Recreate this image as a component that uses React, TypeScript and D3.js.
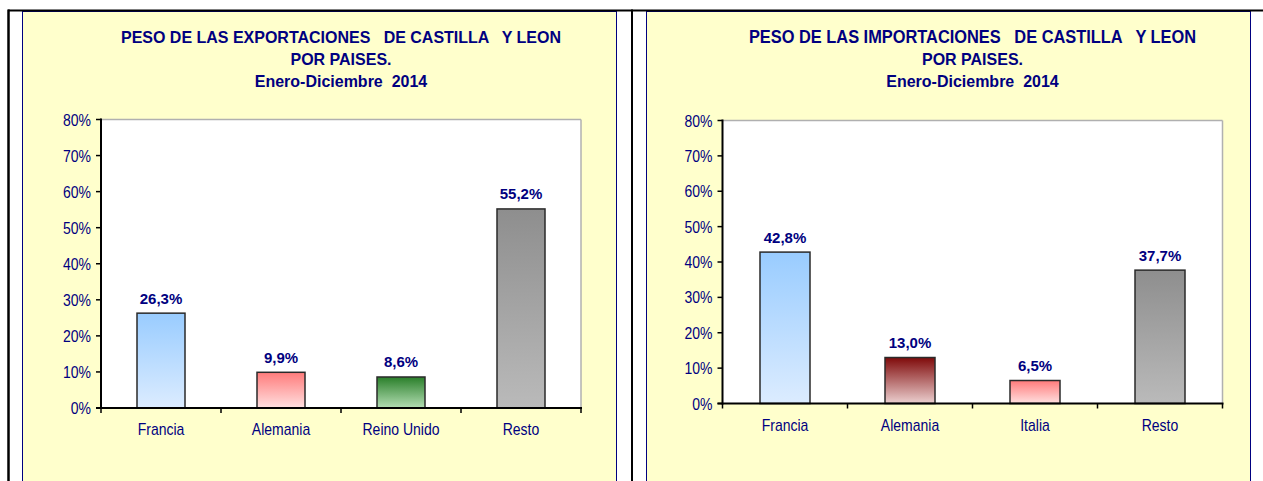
import React from "react";
import * as d3 from "d3";

const expCategories = ["Francia", "Alemania", "Reino Unido", "Resto"];
const expValues = [26.3, 9.9, 8.6, 55.2];
const impCategories = ["Francia", "Alemania", "Italia", "Resto"];
const impValues = [42.8, 13.0, 6.5, 37.7];
const yTickValues = [0, 10, 20, 30, 40, 50, 60, 70, 80];
const expTitle = ["PESO DE LAS EXPORTACIONES   DE CASTILLA   Y LEON", "POR PAISES.", "Enero-Diciembre  2014"];
const impTitle = ["PESO DE LAS IMPORTACIONES   DE CASTILLA   Y LEON", "POR PAISES.", "Enero-Diciembre  2014"];

const expGradients: [string, string][] = [
  ["#99ccff", "#dcecff"],
  ["#ff7b7b", "#ffe0e0"],
  ["#2a7f2a", "#b4deb4"],
  ["#8e8e8e", "#bababa"],
];
const impGradients: [string, string][] = [
  ["#99ccff", "#dcecff"],
  ["#7f0a0a", "#ecd0d0"],
  ["#ff7b7b", "#ffe0e0"],
  ["#8e8e8e", "#bababa"],
];

const NAVY = "#000080";
const FONT = "'Liberation Sans', Arial, sans-serif";
const fmt = (v: number) => v.toFixed(1).replace(".", ",") + "%";

type PanelProps = {
  id: string;
  panelX0: number;
  panelX1: number;
  plot: { x0: number; x1: number; y0: number; y1: number };
  title: string[];
  titleSize: number;
  categories: string[];
  values: number[];
  gradients: [string, string][];
};

function Panel({ id, panelX0, panelX1, plot, title, titleSize, categories, values, gradients }: PanelProps) {
  const x = d3.scaleBand<string>().domain(categories).range([plot.x0, plot.x1]).paddingInner(0.6).paddingOuter(0.3);
  const xb = d3.scaleBand<string>().domain(categories).range([plot.x0, plot.x1]);
  const y = d3.scaleLinear().domain([0, 80]).range([plot.y1, plot.y0]);
  const cx = (plot.x0 + plot.x1) / 2;
  const sy = 1.2;
  return (
    <g>
      <defs>
        {gradients.map((g, i) => (
          <linearGradient key={i} id={`${id}-g${i}`} x1="0" y1="0" x2="0" y2="1">
            <stop offset="0%" stopColor={g[0]} />
            <stop offset="100%" stopColor={g[1]} />
          </linearGradient>
        ))}
      </defs>
      <rect x={panelX0} y={11.5} width={panelX1 - panelX0} height={480} fill="#ffffcc" stroke={NAVY} strokeWidth={1} />
      {title.map((t, i) => (
        <text
          key={i}
          transform={`translate(${cx},${43 + i * 22}) scale(1,1.08)`}
          textAnchor="middle"
          fontFamily={FONT}
          fontWeight="bold"
          fontSize={i === 0 ? titleSize : 16}
          fill={NAVY}
          style={{ whiteSpace: "pre" }}
        >
          {t}
        </text>
      ))}
      <rect x={plot.x0} y={plot.y0} width={plot.x1 - plot.x0} height={plot.y1 - plot.y0} fill="#ffffff" />
      <line x1={plot.x0} x2={plot.x1} y1={plot.y0} y2={plot.y0} stroke="#b0b0b0" strokeWidth={1.5} />
      <line x1={plot.x1} x2={plot.x1} y1={plot.y0} y2={plot.y1} stroke="#b0b0b0" strokeWidth={1.5} />
      {categories.map((c, i) => (
        <g key={c}>
          <rect
            x={x(c)}
            y={y(values[i])}
            width={x.bandwidth()}
            height={y(0) - y(values[i])}
            fill={`url(#${id}-g${i})`}
            stroke="#2a2a2a"
            strokeWidth={1.5}
          />
          <text
            x={(x(c) as number) + x.bandwidth() / 2}
            y={y(values[i]) - 9.5}
            textAnchor="middle"
            fontFamily={FONT}
            fontWeight="bold"
            fontSize={15}
            fill={NAVY}
          >
            {fmt(values[i])}
          </text>
          <text
            transform={`translate(${(xb(c) as number) + xb.bandwidth() / 2},${plot.y1 + 27}) scale(1,${sy})`}
            textAnchor="middle"
            fontFamily={FONT}
            fontSize={14}
            fill={NAVY}
          >
            {c}
          </text>
        </g>
      ))}
      {/* y axis */}
      <line x1={plot.x0} x2={plot.x0} y1={plot.y0 - 1} y2={plot.y1 + 1} stroke="#000" strokeWidth={2} />
      {yTickValues.map((t) => (
        <g key={t}>
          <line x1={plot.x0 - 5} x2={plot.x0} y1={y(t)} y2={y(t)} stroke="#000" strokeWidth={1.5} />
          <text
            transform={`translate(${plot.x0 - 10},${y(t) + 6}) scale(1,${sy})`}
            textAnchor="end"
            fontFamily={FONT}
            fontSize={14}
            fill={NAVY}
          >
            {t + "%"}
          </text>
        </g>
      ))}
      {/* x axis */}
      <line x1={plot.x0 - 5} x2={plot.x1 + 1} y1={plot.y1} y2={plot.y1} stroke="#000" strokeWidth={2} />
      {[...categories.map((c) => xb(c) as number), plot.x1].map((tx, i) => (
        <line key={i} x1={tx} x2={tx} y1={plot.y1} y2={plot.y1 + 5} stroke="#000" strokeWidth={1.5} />
      ))}
    </g>
  );
}

export default function App() {
  return (
    <svg width={1263} height={481} style={{ position: "absolute", left: 0, top: 0, background: "#fff" }}>
      <rect x={0} y={0} width={1263} height={481} fill="#fff" />
      <Panel
        id="exp"
        panelX0={22.5}
        panelX1={616.5}
        plot={{ x0: 101, x1: 581, y0: 119.5, y1: 408 }}
        title={expTitle}
        titleSize={16}
        categories={expCategories}
        values={expValues}
        gradients={expGradients}
      />
      <Panel
        id="imp"
        panelX0={646.5}
        panelX1={1250.5}
        plot={{ x0: 722.5, x1: 1222.5, y0: 120.5, y1: 403.5 }}
        title={impTitle}
        titleSize={16.4}
        categories={impCategories}
        values={impValues}
        gradients={impGradients}
      />
      <line x1={8} x2={1263} y1={10.5} y2={10.5} stroke="#000" strokeWidth={2} />
      <line x1={8.5} x2={8.5} y1={9.5} y2={481} stroke="#000" strokeWidth={2.5} />
      <line x1={632} x2={632} y1={9.5} y2={481} stroke="#000" strokeWidth={2} />
    </svg>
  );
}
